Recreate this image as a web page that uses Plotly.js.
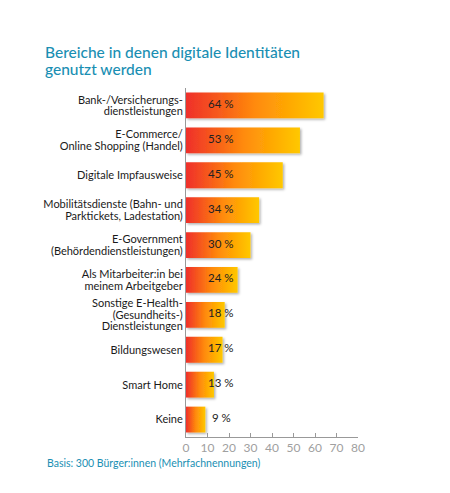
<!DOCTYPE html>
<html>
<head>
<meta charset="utf-8">
<script src="https://cdn.plot.ly/plotly-3.0.1.min.js"></script>
<style>
  body { margin: 0; background: #fff; }
</style>
</head>
<body>
<div id="chart"></div>
<script>
const categories = [
  'Bank-/Versicherungs-<br>dienstleistungen',
  'E-Commerce/<br>Online Shopping (Handel)',
  'Digitale Impfausweise',
  'Mobilitätsdienste (Bahn- und<br>Parktickets, Ladestation)',
  'E-Government<br>(Behördendienstleistungen)',
  'Als Mitarbeiter:in bei<br>meinem Arbeitgeber',
  'Sonstige E-Health-<br>(Gesundheits-)<br>Dienstleistungen',
  'Bildungswesen',
  'Smart Home',
  'Keine'
];
const shares = [64, 53, 45, 34, 30, 24, 18, 17, 13, 9];
const xTicks = [0, 10, 20, 30, 40, 50, 60, 70, 80];

const teal = '#1a8fb3';
const fontFam = 'Lato, "Liberation Sans", sans-serif';
const SVGNS = 'http://www.w3.org/2000/svg';

const bars = {
  type: 'bar',
  orientation: 'h',
  x: shares,
  y: categories,
  width: 0.74,
  marker: {color: '#ff8a0a', line: {width: 0}},
  hoverinfo: 'none'
};

// value labels sit at a fixed spot near the start of every bar
const labels = shares.map((v, i) => ({
  x: 16.5,
  y: categories[i],
  xref: 'x',
  yref: 'y',
  text: v + ' %',
  showarrow: false,
  font: {family: fontFam, size: 11.5, color: '#222'},
  yshift: 2
}));

labels.push({
  text: 'Basis: 300 Bürger:innen (Mehrfachnennungen)',
  xref: 'paper', yref: 'paper',
  x: -0.82, y: -0.074,
  xanchor: 'left', yanchor: 'middle',
  showarrow: false,
  font: {family: fontFam, size: 10.5, color: teal}
});

const layout = {
  width: 450,
  height: 493,
  margin: {l: 186, r: 92, t: 88, b: 56},
  paper_bgcolor: '#fff',
  plot_bgcolor: '#fff',
  showlegend: false,
  title: {
    text: 'Bereiche in denen digitale Identitäten<br>genutzt werden',
    font: {family: fontFam, size: 15.5, color: teal, weight: 500},
    xref: 'container', yref: 'container',
    x: 0.1, xanchor: 'left',
    y: 0.883, yanchor: 'top'
  },
  xaxis: {
    range: [0, 80],
    tickvals: xTicks,
    ticks: 'inside',
    ticklen: 4,
    tickcolor: '#999',
    showline: true,
    linecolor: '#999',
    linewidth: 1,
    showgrid: false,
    zeroline: false,
    fixedrange: true,
    tickfont: {family: fontFam, size: 12, color: '#a0a0a0'}
  },
  yaxis: {
    autorange: 'reversed',
    showline: true,
    linecolor: '#999',
    linewidth: 1,
    showgrid: false,
    zeroline: false,
    ticks: '',
    ticklabelstandoff: 0,
    fixedrange: true,
    tickfont: {family: fontFam, size: 11, color: '#1a1a1a'}
  },
  annotations: labels
};

// squeeze the lines of a wrapped svg text; keep it centred or keep the top line
function tightenLines(t, em, keepTop) {
  const lines = t.querySelectorAll('tspan.line');
  if (lines.length < 2) return;
  const before = t.getBBox();
  lines.forEach((ln, k) => { if (k > 0) ln.setAttribute('dy', (k * em) + 'em'); });
  if (keepTop) return;
  const after = t.getBBox();
  const shift = (before.y + before.height / 2) - (after.y + after.height / 2);
  const tr = t.getAttribute('transform') || '';
  t.setAttribute('transform', tr + ' translate(0,' + shift.toFixed(2) + ')');
}

// bars get a red -> yellow gradient and a light shadow
function paintBars(gd) {
  const svg = gd.querySelector('svg.main-svg');
  let defs = svg.querySelector('defs');
  if (!defs) { defs = document.createElementNS(SVGNS, 'defs'); svg.prepend(defs); }
  if (!defs.querySelector('#barGrad')) {
    const grad = document.createElementNS(SVGNS, 'linearGradient');
    grad.setAttribute('id', 'barGrad');
    grad.setAttribute('x1', '0'); grad.setAttribute('y1', '0');
    grad.setAttribute('x2', '1'); grad.setAttribute('y2', '0');
    [['0', '#ef2f2b'], ['0.5', '#ff8a0a'], ['1', '#ffc800']].forEach(([o, c]) => {
      const s = document.createElementNS(SVGNS, 'stop');
      s.setAttribute('offset', o);
      s.setAttribute('stop-color', c);
      grad.appendChild(s);
    });
    defs.appendChild(grad);
    const filt = document.createElementNS(SVGNS, 'filter');
    filt.setAttribute('id', 'barShadow');
    filt.setAttribute('x', '-10%'); filt.setAttribute('y', '-10%');
    filt.setAttribute('width', '130%'); filt.setAttribute('height', '140%');
    const ds = document.createElementNS(SVGNS, 'feDropShadow');
    ds.setAttribute('dx', '1.5'); ds.setAttribute('dy', '1.5');
    ds.setAttribute('stdDeviation', '0.8');
    ds.setAttribute('flood-color', '#000');
    ds.setAttribute('flood-opacity', '0.3');
    filt.appendChild(ds);
    defs.appendChild(filt);
  }
  gd.querySelectorAll('.barlayer path').forEach(p => {
    p.style.setProperty('fill', 'url(#barGrad)');
    p.setAttribute('filter', 'url(#barShadow)');
  });

  gd.querySelectorAll('.ytick text').forEach(t => tightenLines(t, 1.05, false));
  gd.querySelectorAll('.gtitle').forEach(t => tightenLines(t, 1.1, true));
}

Plotly.newPlot('chart', [bars], layout, {displayModeBar: false, staticPlot: true}).then(paintBars);
</script>
</body>
</html>
